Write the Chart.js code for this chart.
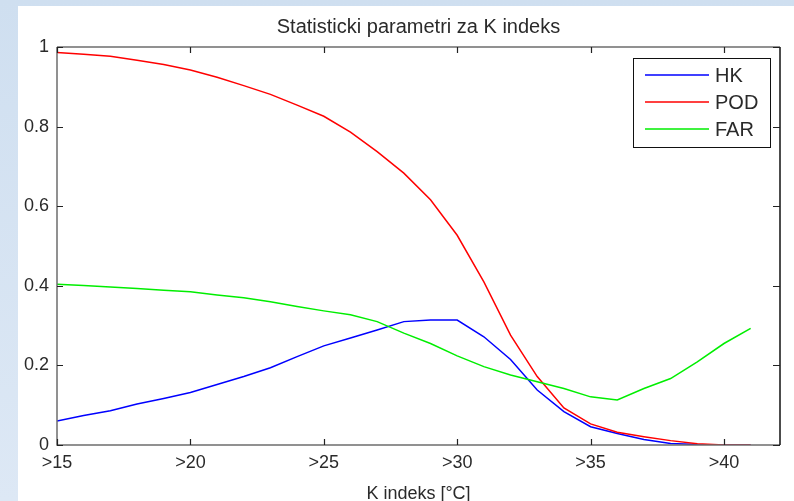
<!DOCTYPE html>
<html>
<head>
<meta charset="utf-8">
<script src="https://cdn.jsdelivr.net/npm/chart.js@4"></script>
<style>
  html, body { margin: 0; padding: 0; background: #d6e4f2; }
  canvas { display: block; }
</style>
</head>
<body>
<canvas id="chart" width="794" height="501"></canvas>
<script>
// ===================== DATA =====================
const kIndeks = [15, 16, 17, 18, 19, 20, 21, 22, 23, 24, 25, 26, 27, 28, 29, 30, 31, 32, 33, 34, 35, 36, 37, 38, 39, 40, 41];
const hk  = [0.060, 0.074, 0.086, 0.103, 0.117, 0.132, 0.152, 0.172, 0.194, 0.222, 0.249, 0.269, 0.289, 0.310, 0.314, 0.314, 0.272, 0.215, 0.138, 0.084, 0.046, 0.029, 0.014, 0.004, 0.001, 0, 0];
const pod = [0.986, 0.982, 0.977, 0.967, 0.956, 0.942, 0.924, 0.903, 0.881, 0.854, 0.826, 0.786, 0.737, 0.683, 0.616, 0.527, 0.410, 0.276, 0.172, 0.093, 0.053, 0.032, 0.021, 0.011, 0.003, 0, 0];
const far = [0.404, 0.401, 0.397, 0.393, 0.389, 0.385, 0.377, 0.370, 0.360, 0.348, 0.337, 0.327, 0.310, 0.281, 0.255, 0.224, 0.197, 0.176, 0.159, 0.142, 0.121, 0.113, 0.142, 0.167, 0.209, 0.255, 0.293];
const xTicks = [15, 20, 25, 30, 35, 40];
const yTicks = [0, 0.2, 0.4, 0.6, 0.8, 1];

const titleText = 'Statisticki parametri za K indeks';
const xLabelText = 'K indeks [°C]';
const FONT = '"Liberation Sans", Arial, sans-serif';
const TEXT_COLOR = '#2a2a2a';

function toPoints(values) {
    return kIndeks.map((k, i) => ({ x: k, y: values[i] }));
}

// ===================== FRAME / LEGEND PLUGIN =====================
const matlabFrame = {
    id: 'matlabFrame',
    beforeDraw(chart) {
        const { ctx, width, height } = chart;
        const g = ctx.createLinearGradient(0, 0, 0, height);
        g.addColorStop(0, '#cfdff0');
        g.addColorStop(1, '#dde8f5');
        ctx.save();
        ctx.fillStyle = g;
        ctx.fillRect(0, 0, width, height);
        ctx.fillStyle = '#ffffff';
        ctx.fillRect(18, 6, width - 18, height - 6);
        ctx.restore();
    },
    afterDatasetsDraw(chart) {
        const { ctx, chartArea: a, scales } = chart;
        ctx.save();

        // box
        ctx.lineWidth = 1.5;
        ctx.strokeStyle = '#6e6e6e';
        ctx.beginPath();
        ctx.moveTo(a.left, a.top);
        ctx.lineTo(a.left, a.bottom);
        ctx.lineTo(a.right, a.bottom);
        ctx.moveTo(a.left, a.top);
        ctx.lineTo(a.right, a.top);
        ctx.stroke();
        ctx.strokeStyle = '#111';
        ctx.beginPath();
        ctx.moveTo(a.right, a.top);
        ctx.lineTo(a.right, a.bottom);
        ctx.stroke();

        // inward ticks
        ctx.lineWidth = 1.2;
        ctx.strokeStyle = '#222';
        scales.x.ticks.forEach(t => {
            const px = Math.round(scales.x.getPixelForValue(t.value)) + 0.5;
            ctx.beginPath();
            ctx.moveTo(px, a.bottom); ctx.lineTo(px, a.bottom - 6);
            ctx.moveTo(px, a.top); ctx.lineTo(px, a.top + 6);
            ctx.stroke();
        });
        scales.y.ticks.forEach(t => {
            const py = Math.round(scales.y.getPixelForValue(t.value)) + 0.5;
            ctx.beginPath();
            ctx.moveTo(a.left, py); ctx.lineTo(a.left + 6, py);
            ctx.moveTo(a.right, py); ctx.lineTo(a.right - 7, py);
            ctx.stroke();
        });

        // legend
        const lx = 633.5, ly = 58.5, lw = 137, lh = 89;
        ctx.fillStyle = '#fff';
        ctx.fillRect(lx, ly, lw, lh);
        ctx.strokeStyle = '#111';
        ctx.lineWidth = 1;
        ctx.strokeRect(lx, ly, lw, lh);
        ctx.font = '20px ' + FONT;
        ctx.textBaseline = 'middle';
        ctx.textAlign = 'left';
        chart.data.datasets.forEach((ds, i) => {
            const yy = 75 + i * 27;
            ctx.strokeStyle = ds.borderColor;
            ctx.lineWidth = 1.5;
            ctx.beginPath();
            ctx.moveTo(645, yy); ctx.lineTo(709, yy);
            ctx.stroke();
            ctx.fillStyle = TEXT_COLOR;
            ctx.fillText(ds.label, 715, yy + 1);
        });

        // title and x label
        const cx = (a.left + a.right) / 2;
        ctx.textAlign = 'center';
        ctx.textBaseline = 'alphabetic';
        ctx.fillStyle = TEXT_COLOR;
        ctx.font = '20px ' + FONT;
        ctx.fillText(titleText, cx, 33);
        ctx.font = '18px ' + FONT;
        ctx.fillText(xLabelText, cx, 499);

        ctx.restore();
    }
};

// ===================== CHART =====================
const ctx = document.getElementById('chart').getContext('2d');
new Chart(ctx, {
    type: 'line',
    data: {
        datasets: [
            { label: 'HK',  data: toPoints(hk),  borderColor: '#0000ff', order: 2 },
            { label: 'POD', data: toPoints(pod), borderColor: '#ff0000', order: 1 },
            { label: 'FAR', data: toPoints(far), borderColor: '#00ee00', order: 0 }
        ]
    },
    options: {
        responsive: false,
        animation: false,
        devicePixelRatio: 1,
        layout: { padding: { left: 0, top: 47, right: 14, bottom: 0 } },
        elements: {
            line: { borderWidth: 1.5, tension: 0, fill: false },
            point: { radius: 0, hoverRadius: 0 }
        },
        plugins: {
            legend: { display: false },
            title: { display: false },
            tooltip: { enabled: false }
        },
        scales: {
            x: {
                type: 'linear',
                min: 15,
                max: 42.1,
                afterBuildTicks: s => { s.ticks = xTicks.map(v => ({ value: v })); },
                afterFit: s => { s.height = 56; },
                border: { display: false },
                grid: { display: false, drawTicks: false },
                ticks: {
                    padding: 7,
                    color: TEXT_COLOR,
                    font: { family: FONT, size: 18 },
                    maxRotation: 0,
                    callback: v => '>' + v
                }
            },
            y: {
                min: 0,
                max: 1,
                afterBuildTicks: s => { s.ticks = yTicks.map(v => ({ value: v })); },
                afterFit: s => { s.width = 57; },
                border: { display: false },
                grid: { display: false, drawTicks: false },
                ticks: {
                    padding: 8,
                    color: TEXT_COLOR,
                    font: { family: FONT, size: 18 },
                    callback: v => String(+v.toFixed(1))
                }
            }
        }
    },
    plugins: [matlabFrame]
});
</script>
</body>
</html>
